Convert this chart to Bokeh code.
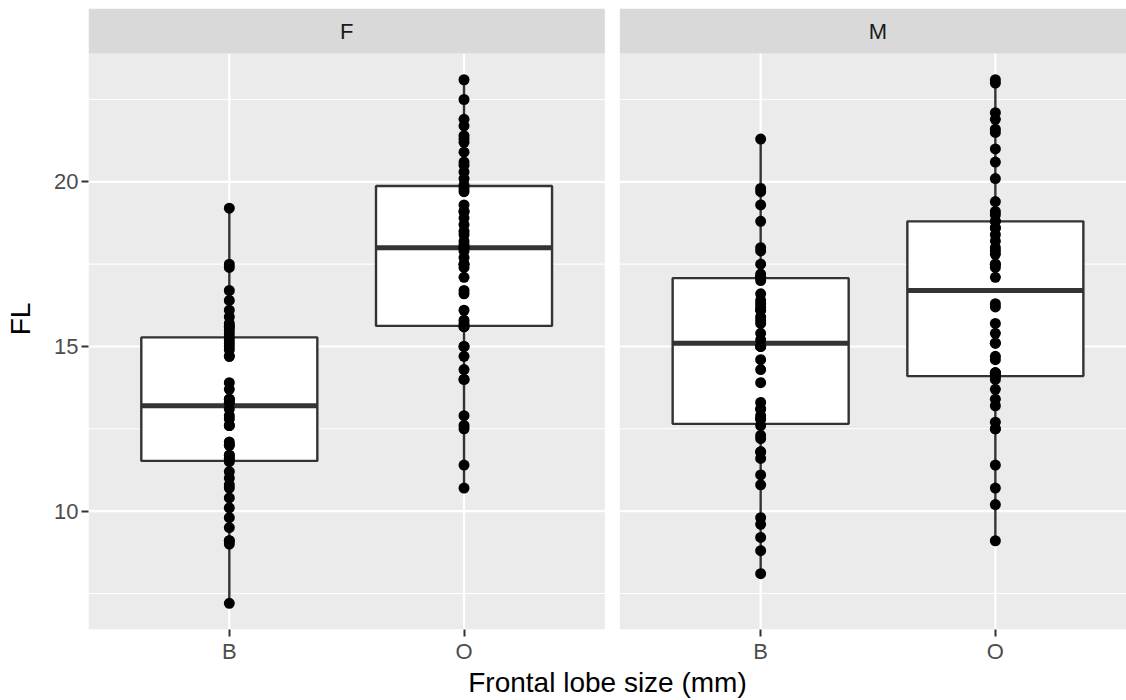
import numpy as np
from bokeh.plotting import figure
from bokeh.models import FixedTicker, Range1d
from bokeh.core.properties import value
from bokeh.embed import file_html
from bokeh.resources import INLINE

# ---------------- data ----------------
sexes = ["F", "M"]
species = ["B", "O"]
fl_F_B = [7.2, 9.0, 9.1, 9.1, 9.5, 9.8, 10.1, 10.4, 10.7, 10.8, 11.0, 11.2, 11.5, 11.6, 11.6,
          11.7, 11.7, 12.0, 12.0, 12.1, 12.6, 12.6, 12.8, 12.9, 13.1, 13.3, 13.3, 13.4, 13.4,
          13.7, 13.9, 14.7, 14.7, 14.9, 15.0, 15.1, 15.2, 15.3, 15.4, 15.5, 15.6, 15.6, 15.7,
          15.9, 16.1, 16.4, 16.7, 17.4, 17.5, 19.2]
fl_F_O = [10.7, 11.4, 12.5, 12.6, 12.9, 14.0, 14.0, 14.3, 14.7, 15.0, 15.0, 15.6, 15.6, 15.7,
          15.8, 16.1, 16.6, 16.7, 17.1, 17.4, 17.5, 17.5, 17.7, 17.9, 18.0, 18.0,
          18.1, 18.2, 18.4, 18.5, 18.7, 18.9, 19.1, 19.1, 19.3, 19.7, 19.8, 19.9,
          20.1, 20.3, 20.5, 20.6, 20.9, 21.2, 21.3, 21.4, 21.7, 21.9, 22.5, 23.1]
fl_M_B = [8.1, 8.8, 9.2, 9.6, 9.8, 10.8, 11.1, 11.6, 11.8, 11.8, 12.2, 12.3, 12.6, 12.8, 12.8,
          12.9, 13.1, 13.1, 13.3, 13.9, 14.3, 14.6, 15.0, 15.0, 15.0, 15.2, 15.4, 15.7, 15.8,
          15.9, 16.1, 16.1, 16.2, 16.3, 16.4, 16.6, 17.0, 17.1, 17.1, 17.1, 17.1, 17.2, 17.5,
          17.9, 18.0, 18.8, 19.3, 19.7, 19.8, 21.3]
fl_M_O = [9.1, 10.2, 10.7, 11.4, 12.5, 12.5, 12.7, 13.2, 13.4, 13.7, 14.0, 14.1, 14.1, 14.1,
          14.2, 14.2, 14.2, 14.6, 14.7, 15.1, 15.1, 15.4, 15.7, 16.2, 16.3, 17.1,
          17.4, 17.5, 17.5, 17.8, 17.9, 18.0, 18.2, 18.4, 18.6, 18.6, 18.8, 18.8,
          19.0, 19.1, 19.4, 20.1, 20.6, 21.0, 21.5, 21.6, 21.9, 22.1, 23.0, 23.1]
y_major = [10, 15, 20]
y_minor = [7.5, 12.5, 17.5, 22.5]
x_title = "Frontal lobe size (mm)"
y_title = "FL"

groups = {("F", "B"): fl_F_B, ("F", "O"): fl_F_O,
          ("M", "B"): fl_M_B, ("M", "O"): fl_M_O}

# ---------------- layout constants ----------------
PX_PER_X = 234.7          # pixels per category unit
FRAME_W = 1038
PANEL_W = 2.2             # discrete range 0.4 .. 2.6
GAP = 15 / PX_PER_X
OFF = PANEL_W + GAP
BOX_W = 0.75
PANEL_PX_H = 575
STRIP_PX_H = 45

all_vals = np.concatenate([np.array(v) for v in groups.values()])
span = all_vals.max() - all_vals.min()
y_lo = all_vals.min() - 0.05 * span
y_hi = all_vals.max() + 0.05 * span
strip_h = STRIP_PX_H * (y_hi - y_lo) / PANEL_PX_H

FONT = "Liberation Sans"
GRID_BG = "#EBEBEB"
DARK = "#333333"

p = figure(width=1126, height=700, output_backend="svg", toolbar_location=None,
           x_range=Range1d(0.4, 0.4 + FRAME_W / PX_PER_X),
           y_range=Range1d(y_lo, y_hi + strip_h),
           min_border_left=88, min_border_right=0, min_border_top=8, min_border_bottom=71,
           background_fill_color="white", border_fill_color="white")
p.outline_line_color = None
p.xgrid.visible = False
p.ygrid.visible = False

panel_left = [0.4 + k * OFF for k in range(len(sexes))]
panel_right = [PANEL_W + 0.4 + k * OFF for k in range(len(sexes))]

# panel backgrounds
p.quad(left=panel_left, right=panel_right, bottom=y_lo, top=y_hi,
       fill_color=GRID_BG, line_color=None)

# grid lines
for k in range(len(sexes)):
    p.segment(x0=[panel_left[k]] * len(y_minor), x1=[panel_right[k]] * len(y_minor),
              y0=y_minor, y1=y_minor, line_color="white", line_width=1.1)
    p.segment(x0=[panel_left[k]] * len(y_major), x1=[panel_right[k]] * len(y_major),
              y0=y_major, y1=y_major, line_color="white", line_width=2.2)
    xs = [j + 1 + k * OFF for j in range(len(species))]
    p.segment(x0=xs, x1=xs, y0=[y_lo] * len(xs), y1=[y_hi] * len(xs),
              line_color="white", line_width=2.2)

# boxplots
for k, sx in enumerate(sexes):
    for j, sp in enumerate(species):
        v = np.array(groups[(sx, sp)])
        xc = j + 1 + k * OFF
        q1, med, q3 = np.percentile(v, [25, 50, 75])
        iqr = q3 - q1
        lo_w = v[v >= q1 - 1.5 * iqr].min()
        hi_w = v[v <= q3 + 1.5 * iqr].max()
        p.segment(x0=[xc, xc], x1=[xc, xc], y0=[q3, q1], y1=[hi_w, lo_w],
                  line_color=DARK, line_width=2.4)
        p.quad(left=[xc - BOX_W / 2], right=[xc + BOX_W / 2], bottom=[q1], top=[q3],
               fill_color="white", line_color=DARK, line_width=2.4)
        p.segment(x0=[xc - BOX_W / 2], x1=[xc + BOX_W / 2], y0=[med], y1=[med],
                  line_color=DARK, line_width=5, line_cap="butt")
        p.scatter(x=[xc] * len(v), y=v, size=11, marker="circle",
                  fill_color="black", line_color="black", line_width=0)

# strips
p.quad(left=panel_left, right=panel_right, bottom=y_hi, top=y_hi + strip_h,
       fill_color="#D9D9D9", line_color=None)
p.text(x=[(l + r) / 2 for l, r in zip(panel_left, panel_right)],
       y=[y_hi + strip_h / 2] * len(sexes), text=sexes,
       text_align="center", text_baseline="middle",
       text_font=value(FONT), text_font_size="22px", text_color="#1A1A1A")

# axes
xticks = [j + 1 + k * OFF for k in range(len(sexes)) for j in range(len(species))]
xlabels = [sp for k in range(len(sexes)) for sp in species]
p.xaxis.ticker = FixedTicker(ticks=xticks)
p.xaxis.major_label_overrides = {t: lab for t, lab in zip(xticks, xlabels)}
p.yaxis.ticker = FixedTicker(ticks=y_major)
for ax in (p.xaxis[0], p.yaxis[0]):
    ax.axis_line_color = None
    ax.major_tick_line_color = DARK
    ax.major_tick_line_width = 2
    ax.major_tick_out = 7
    ax.major_tick_in = 0
    ax.minor_tick_out = 0
    ax.minor_tick_in = 0
    ax.major_label_text_font = FONT
    ax.major_label_text_font_size = "22px"
    ax.major_label_text_color = "#4D4D4D"
    ax.axis_label_text_font = FONT
    ax.axis_label_text_font_size = "28px"
    ax.axis_label_text_font_style = "normal"
    ax.axis_label_text_color = "black"
p.xaxis.axis_label = x_title
p.yaxis.axis_label = y_title
p.xaxis.major_label_standoff = 2
p.xaxis.axis_label_standoff = 0
p.yaxis.major_label_standoff = 3
p.yaxis.axis_label_standoff = 15

open("out.html", "w").write(file_html(p, INLINE))
